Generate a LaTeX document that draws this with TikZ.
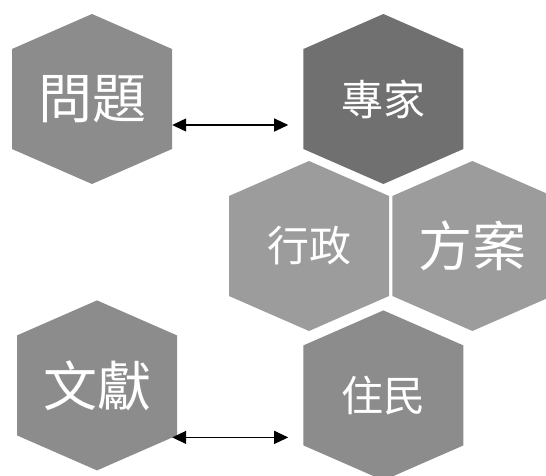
\documentclass[tikz,border=0pt]{standalone}
\usepackage{fontspec}
\newfontfamily\cjkfont{Noto Sans CJK TC}
\usetikzlibrary{positioning, arrows.meta}
\definecolor{hexdark}{gray}{0.44}
\definecolor{hexmid}{gray}{0.55}
\definecolor{hexlight}{gray}{0.61}

\begin{document}
\begin{tikzpicture}[x=1pt, y=1pt,
  hex/.style = {minimum width=160pt, minimum height=170pt, inner sep=0pt,
    text=white, path picture={
      \fill[#1] (path picture bounding box.north)
        -- ([yshift=-35pt]path picture bounding box.north east)
        -- ([yshift=35pt]path picture bounding box.south east)
        -- (path picture bounding box.south)
        -- ([yshift=35pt]path picture bounding box.south west)
        -- ([yshift=-35pt]path picture bounding box.north west) -- cycle;}},
  big/.style = {font=\cjkfont\fontsize{54}{54}\selectfont},
  small/.style = {font=\cjkfont\fontsize{42}{42}\selectfont},
  link/.style = {{Triangle[length=14pt,width=13pt]}-{Triangle[length=14pt,width=13pt]},
    line width=1.2pt}]
\useasboundingbox (0,0) rectangle (546,475);
\node[hex=hexmid, big] (wenti) at (92,376) {問題};
\node[hex=hexdark, small] (zhuanjia) [right = 131pt of wenti] {專家};
\node[hex=hexlight, small] (xingzheng) at (309,229) {行政};
\node[hex=hexlight, big] (fangan) [right = 3pt of xingzheng] {方案};
\node[hex=hexmid, small] (zhumin) [below = 126pt of zhuanjia] {住民};
\node[hex=hexmid, big] (wenxian) [left = 126pt of zhumin, yshift=10pt] {文獻};
% two-way links
\draw[link, shorten >=15pt] ([yshift=-26pt]wenti.east) -- ([yshift=-26pt]zhuanjia.west);
\draw[link, shorten >=15pt] ([xshift=-5pt, yshift=-52pt]wenxian.east) -- ([yshift=-42pt]zhumin.west);
\end{tikzpicture}
\end{document}
